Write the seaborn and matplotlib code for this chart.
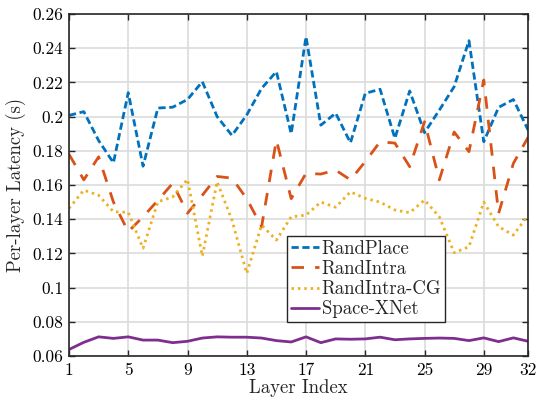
import numpy as np
import pandas as pd
import matplotlib
matplotlib.use("Agg")
import matplotlib.pyplot as plt
import seaborn as sns

layers = list(range(1, 33))
rand_place = [0.2007, 0.2029, 0.186, 0.173, 0.214, 0.171, 0.205, 0.2055, 0.210, 0.2204,
              0.200, 0.189, 0.201, 0.2165, 0.2263, 0.190, 0.2467, 0.195, 0.202, 0.1847,
              0.2136, 0.216, 0.1873, 0.215, 0.1906, 0.2038, 0.2175, 0.2444, 0.1853, 0.2054,
              0.210, 0.192]
rand_intra = [0.178, 0.163, 0.1765, 0.150, 0.1327, 0.1414, 0.151, 0.161, 0.1435, 0.154,
              0.165, 0.164, 0.152, 0.1356, 0.1863, 0.152, 0.1668, 0.1664, 0.1687, 0.163,
              0.1737, 0.1853, 0.1845, 0.1707, 0.197, 0.163, 0.191, 0.1795, 0.2214, 0.1434,
              0.1727, 0.188]
rand_intra_cg = [0.1463, 0.157, 0.154, 0.1444, 0.144, 0.123, 0.1502, 0.153, 0.1633, 0.1184,
                 0.1619, 0.1395, 0.1083, 0.1366, 0.1278, 0.1414, 0.1424, 0.150, 0.147, 0.156,
                 0.1522, 0.150, 0.1454, 0.1438, 0.1512, 0.1414, 0.1204, 0.1239, 0.150, 0.1356,
                 0.1307, 0.1424]
space_xnet = [0.0638, 0.068, 0.0712, 0.0703, 0.0712, 0.0693, 0.0693, 0.0678, 0.0686, 0.0705,
              0.0712, 0.071, 0.071, 0.0705, 0.069, 0.0682, 0.0712, 0.0678, 0.070, 0.0698,
              0.070, 0.071, 0.0695, 0.070, 0.0703, 0.0705, 0.0703, 0.069, 0.0706, 0.0684,
              0.0706, 0.0686]
series_names = ["RandPlace", "RandIntra", "RandIntra-CG", "Space-XNet"]
x_ticks = [1, 5, 9, 13, 17, 21, 25, 29, 32]
y_ticks = [0.06, 0.08, 0.1, 0.12, 0.14, 0.16, 0.18, 0.2, 0.22, 0.24, 0.26]
y_tick_labels = ["0.06", "0.08", "0.1", "0.12", "0.14", "0.16", "0.18", "0.2", "0.22", "0.24", "0.26"]

df = pd.DataFrame({
    "Layer": layers * 4,
    "Latency": rand_place + rand_intra + rand_intra_cg + space_xnet,
    "Method": sum([[n] * len(layers) for n in series_names], []),
})

sns.set_style("ticks")
plt.rcParams["font.family"] = ["cmr10", "DejaVu Serif"]
plt.rcParams["mathtext.fontset"] = "cm"
plt.rcParams["axes.formatter.use_mathtext"] = True

colors = ["#0072BD", "#D95319", "#EDB120", "#7E2F8E"]
dashes = {"RandPlace": (2.6, 1.3), "RandIntra": (4.5, 4.0), "RandIntra-CG": (0.9, 1.4), "Space-XNet": ""}

fig = plt.figure(figsize=(5.39, 4.0), dpi=100)
ax = fig.add_axes([0.128, 0.11, 0.852, 0.855])
sns.lineplot(data=df, x="Layer", y="Latency", hue="Method", style="Method",
             hue_order=series_names, style_order=series_names,
             palette=colors, dashes=dashes, linewidth=2.0, ax=ax, legend=True)

ax.set_xlim(1, 32)
ax.set_ylim(0.06, 0.26)
ax.set_xticks(x_ticks)
ax.set_xticklabels([str(t) for t in x_ticks])
ax.set_yticks(y_ticks)
ax.set_yticklabels(y_tick_labels)
ax.grid(True, color="#dcdcdc", linewidth=1.2)
ax.set_axisbelow(True)
ax.tick_params(direction="in", top=True, right=True, labelsize=12.5, length=4, width=1,
               colors="#262626")
ax.tick_params(axis="x", pad=5)
ax.tick_params(axis="y", pad=4)
for tl in ax.get_xticklabels() + ax.get_yticklabels():
    tl.set_color("black")
for s in ax.spines.values():
    s.set_linewidth(1.2)
    s.set_color("#262626")
ax.set_xlabel("Layer Index", fontsize=13.5, labelpad=0.5)
ax.set_ylabel("Per-layer Latency (s)", fontsize=13.5, labelpad=5)

leg = ax.legend(loc="lower left", bbox_to_anchor=(0.475, 0.099),
                fontsize=13.5, frameon=True, fancybox=False, edgecolor="#262626",
                borderpad=0.2, labelspacing=0.12, handlelength=1.5, handletextpad=0.15,
                borderaxespad=0)
leg.get_frame().set_linewidth(1.0)
leg.get_frame().set_alpha(1)

fig.savefig("out.png", dpi=100)
